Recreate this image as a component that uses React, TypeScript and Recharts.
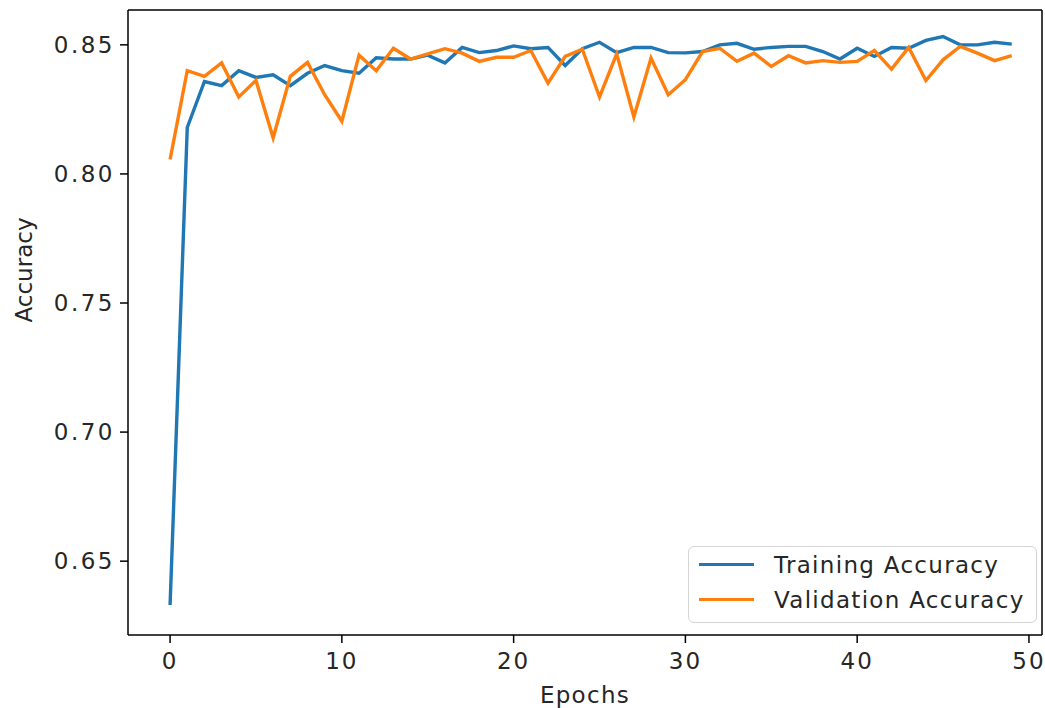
import { LineChart, Line, XAxis, YAxis } from "recharts";

const epochs = [
  0, 1, 2, 3, 4, 5, 6, 7, 8, 9, 10, 11, 12, 13, 14, 15, 16, 17, 18, 19, 20, 21, 22, 23, 24,
  25, 26, 27, 28, 29, 30, 31, 32, 33, 34, 35, 36, 37, 38, 39, 40, 41, 42, 43, 44, 45, 46, 47, 48, 49,
];

const trainAcc = [
  0.633, 0.818, 0.8358, 0.8342, 0.84, 0.8374, 0.8384, 0.8342, 0.839, 0.842,
  0.84, 0.839, 0.845, 0.8445, 0.8445, 0.846, 0.843, 0.849, 0.847, 0.8478,
  0.8496, 0.8485, 0.849, 0.842, 0.8485, 0.851, 0.847, 0.849, 0.849, 0.847,
  0.8469, 0.8474, 0.85, 0.8506, 0.8483, 0.849, 0.8494, 0.8494, 0.8474, 0.8445,
  0.8487, 0.8455, 0.849, 0.8487, 0.8517, 0.8532, 0.85, 0.85, 0.851, 0.8503,
];

const valAcc = [
  0.8056, 0.84, 0.8378, 0.843, 0.8298, 0.8362, 0.814, 0.8378, 0.8432, 0.8307,
  0.8204, 0.846, 0.84, 0.8487, 0.8445, 0.8465, 0.8485, 0.8468, 0.8436, 0.8452,
  0.8452, 0.8478, 0.8352, 0.8455, 0.8483, 0.8298, 0.8465, 0.8221, 0.8449, 0.8307,
  0.8365, 0.8474, 0.8487, 0.8436, 0.8468, 0.8416, 0.8458, 0.843, 0.8439, 0.8432,
  0.8436, 0.8478, 0.8406, 0.849, 0.8362, 0.8442, 0.8494, 0.8468, 0.8439, 0.8458,
];

const xTicks = [0, 10, 20, 30, 40, 50];
const yTicks = [0.65, 0.7, 0.75, 0.8, 0.85];

const series = [
  { key: "train", name: "Training Accuracy", color: "#1f77b4" },
  { key: "val", name: "Validation Accuracy", color: "#ff7f0e" },
];

const data = epochs.map((e, i) => ({ epoch: e, train: trainAcc[i], val: valAcc[i] }));

const FONT = "'DejaVu Sans', sans-serif";
const TEXT = "#262626";
const xDomain = [-2.45, 50.76];
const yDomain = [0.6214, 0.8635];

function LegendBox() {
  return (
    <div
      style={{
        position: "absolute",
        left: 688,
        top: 546,
        width: 349,
        height: 77,
        border: "1.5px solid #d4d4d4",
        borderRadius: 6,
        background: "rgba(255,255,255,0.85)",
        padding: "0 10px 5px 10px",
        fontFamily: FONT,
        fontSize: 23,
        letterSpacing: 1.3,
        color: TEXT,
        boxSizing: "border-box",
        display: "flex",
        flexDirection: "column",
        justifyContent: "center",
      }}
    >
      {series.map((s) => (
        <div key={s.key} style={{ display: "flex", alignItems: "center", height: 36 }}>
          <span
            style={{ display: "inline-block", width: 55, height: 3, background: s.color, marginRight: 20 }}
          />
          <span>{s.name}</span>
        </div>
      ))}
    </div>
  );
}

export default function App() {
  return (
    <div style={{ position: "fixed", left: 0, top: 0, width: 1045, height: 708, background: "#fff" }}>
      <LineChart
        width={1045}
        height={708}
        data={data}
        margin={{ top: 9, right: 2, bottom: 0, left: 0 }}
        style={{ fontFamily: FONT }}
      >
        <XAxis
          xAxisId="b"
          dataKey="epoch"
          type="number"
          domain={xDomain}
          ticks={xTicks}
          height={73}
          allowDataOverflow
          stroke="#000"
          strokeWidth={1.5}
          tickSize={8}
          tickMargin={10}
          tick={{ fill: TEXT, fontSize: 23, fontFamily: FONT, letterSpacing: 2 }}
          label={{ value: "Epochs", position: "insideBottom", offset: 5, fill: TEXT, fontSize: 23, fontFamily: FONT, letterSpacing: 1.3 }}
        />
        <XAxis xAxisId="t" orientation="top" dataKey="epoch" type="number" domain={xDomain} height={1} tick={false} tickLine={false} allowDataOverflow stroke="#000" strokeWidth={1.5} />
        <YAxis
          yAxisId="l"
          type="number"
          domain={yDomain}
          ticks={yTicks}
          width={128}
          allowDataOverflow
          stroke="#000"
          strokeWidth={1.5}
          tickSize={8}
          tickMargin={5}
          tickFormatter={(v: number) => v.toFixed(2)}
          tick={{ fill: TEXT, fontSize: 23, fontFamily: FONT, letterSpacing: 2.5 }}
          label={{ value: "Accuracy", angle: -90, position: "insideLeft", offset: 24, fill: TEXT, fontSize: 23, fontFamily: FONT }}
        />
        <YAxis yAxisId="r" orientation="right" type="number" domain={yDomain} width={1} tick={false} tickLine={false} allowDataOverflow stroke="#000" strokeWidth={1.5} />
        {series.map((s) => (
          <Line
            key={s.key}
            xAxisId="b"
            yAxisId="l"
            type="linear"
            dataKey={s.key}
            name={s.name}
            stroke={s.color}
            strokeWidth={3.4}
            dot={false}
            isAnimationActive={false}
          />
        ))}
      </LineChart>
      <LegendBox />
    </div>
  );
}
